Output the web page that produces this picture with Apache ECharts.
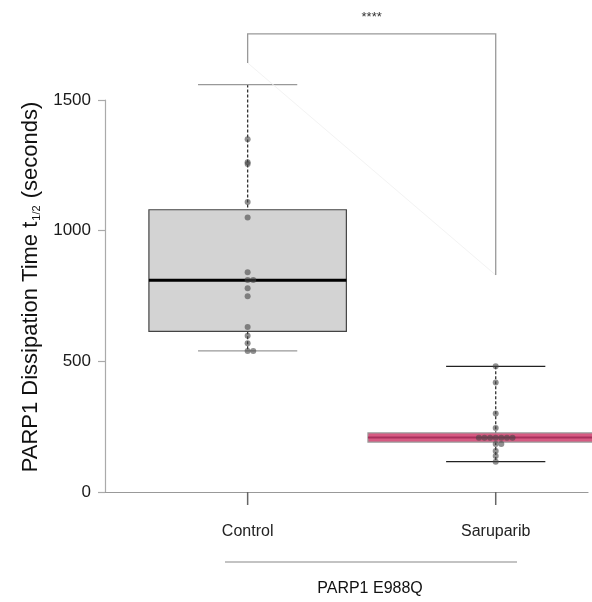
<!DOCTYPE html>
<html><head><meta charset="utf-8">
<script src="https://cdn.jsdelivr.net/npm/echarts@6/dist/echarts.min.js"></script>
<style>html,body{margin:0;padding:0;background:#fff}#c{width:592px;height:602px}</style>
</head><body><div id="c"></div>
<script>
// ---- data ----
const categories = ['Control', 'Saruparib'];
const controlValues = [1559, 1350, 1262, 1255, 1110, 1050, 841, 811, 811, 780, 749, 631, 598, 569, 540, 540];
const saruparibValues = [481, 419, 300, 245, 208, 208, 208, 208, 208, 208, 208, 184, 184, 157, 138, 116];
const boxMin = [540, 116];
const boxQ1 = [615, 191];
const boxMedian = [810, 209];
const boxQ3 = [1080, 226];
const boxMax = [1559, 481];
const yTicks = [0, 500, 1000, 1500];
const groupLabel = 'PARP1 E988Q';
const yTitle = 'PARP1 Dissipation Time t{sub|1/2} (seconds)';
const sigLabel = '****';
const bracketTop = [1753];
const bracketEnds = [1642, 830];

// ---- styling ----
const FONT = '"Liberation Sans", Arial, Helvetica, sans-serif';
const boxHalfWidth = [0.398, 0.515];
const capHalfWidth = 0.2;
const boxStyles = [
  { fill: '#d3d3d3', stroke: '#444', median: '#000', medianW: 3, cap: '#999' },
  { fill: '#d65a82', stroke: '#999', median: '#a8305c', medianW: 2, cap: '#222' }
];

// beeswarm-style offsets: identical values spread center, +1, -1, +2, -2 ...
function swarm(values, idx) {
  const seen = {};
  const step = 5.6 / 248;
  return values.map(v => {
    const k = seen[v] || 0; seen[v] = k + 1;
    const m = Math.ceil(k / 2) * (k % 2 === 1 ? 1 : -1);
    return [idx + m * step, v];
  });
}
const points = swarm(controlValues, 0).concat(swarm(saruparibValues, 1));

const boxData = categories.map((c, i) => [i, boxMin[i], boxQ1[i], boxMedian[i], boxQ3[i], boxMax[i]]);

function renderBox(params, api) {
  const i = api.value(0);
  const s = boxStyles[i];
  const cx = api.coord([i, 0])[0];
  const y = k => api.coord([i, api.value(k)])[1];
  const yMin = y(1), yQ1 = y(2), yMd = y(3), yQ3 = y(4), yMax = y(5);
  const unit = api.size([1, 0])[0];
  const bw = boxHalfWidth[i] * unit, cw = capHalfWidth * unit;
  const dash = { stroke: '#333', lineWidth: 1.3, lineDash: [3, 2] };
  return { type: 'group', children: [
    { type: 'line', shape: { x1: cx, y1: yMax, x2: cx, y2: yQ3 }, style: dash },
    { type: 'line', shape: { x1: cx, y1: yQ1, x2: cx, y2: yMin }, style: dash },
    { type: 'line', shape: { x1: cx - cw, y1: yMax, x2: cx + cw, y2: yMax }, style: { stroke: s.cap, lineWidth: 1.3 } },
    { type: 'line', shape: { x1: cx - cw, y1: yMin, x2: cx + cw, y2: yMin }, style: { stroke: s.cap, lineWidth: 1.3 } },
    { type: 'rect', shape: { x: cx - bw, y: yQ3, width: 2 * bw, height: yQ1 - yQ3 }, style: { fill: s.fill, stroke: s.stroke, lineWidth: 1.2 } },
    { type: 'line', shape: { x1: cx - bw, y1: yMd, x2: cx + bw, y2: yMd }, style: { stroke: s.median, lineWidth: s.medianW } }
  ]};
}

function renderTicks(params, api) {
  const i = api.value(0);
  const p = api.coord([i, 0]);
  return { type: 'group', children: [
    { type: 'line', shape: { x1: p[0], y1: p[1], x2: p[0], y2: p[1] + 13 }, style: { stroke: '#666', lineWidth: 1.5 } },
    { type: 'text', x: p[0], y: p[1] + 40, style: { text: categories[i], fontSize: 16, fontFamily: FONT, fill: '#222', align: 'center', verticalAlign: 'middle', textAlign: 'center', textVerticalAlign: 'middle' } }
  ]};
}

function renderBracket(params, api) {
  const a = api.coord([0, api.value(1)]);
  const b = api.coord([1, api.value(1)]);
  const yl = api.coord([0, api.value(2)])[1];
  const yr = api.coord([1, api.value(3)])[1];
  return { type: 'group', children: [
    { type: 'line', shape: { x1: a[0], y1: yl, x2: b[0], y2: yr }, style: { stroke: '#f3f3f3', lineWidth: 1 } },
    { type: 'polyline', shape: { points: [[a[0], yl], [a[0], a[1]], [b[0], b[1]], [b[0], yr]] }, style: { stroke: '#999', lineWidth: 1.3, fill: null } },
    { type: 'text', x: (a[0] + b[0]) / 2, y: a[1] - 16, style: { text: sigLabel, fontSize: 13, fontFamily: FONT, fill: '#333', align: 'center', verticalAlign: 'middle', textAlign: 'center', textVerticalAlign: 'middle' } }
  ]};
}

const chart = echarts.init(document.getElementById('c'), null, { renderer: 'canvas' });
chart.setOption({
  animation: false,
  backgroundColor: '#fff',
  grid: { left: 105, right: 4, top: 100, bottom: 110, containLabel: false, outerBoundsMode: 'none' },
  xAxis: { type: 'value', min: -0.575, max: 1.372,
    axisLine: { show: true, onZero: false, lineStyle: { color: '#999', width: 1.2 } },
    axisTick: { show: false }, axisLabel: { show: false }, splitLine: { show: false } },
  yAxis: { type: 'value', min: yTicks[0], max: yTicks[yTicks.length - 1], interval: yTicks[1] - yTicks[0],
    axisLine: { show: true, onZero: false, lineStyle: { color: '#aaa', width: 1.2 } },
    axisTick: { show: true, length: 7, lineStyle: { color: '#aaa', width: 1.2 } },
    axisLabel: { fontSize: 17, color: '#1a1a1a', margin: 14, fontFamily: FONT, formatter: v => String(v) },
    splitLine: { show: false } },
  graphic: [
    { type: 'text', x: 31, y: 287, rotation: Math.PI / 2,
      style: { text: yTitle, fontSize: 22, fontFamily: FONT, fill: '#111', align: 'center', verticalAlign: 'middle', textAlign: 'center', textVerticalAlign: 'middle',
        rich: { sub: { fontSize: 11, fontFamily: FONT, fill: '#111', verticalAlign: 'bottom', padding: [0, 1, 0, 1] } } } },
    { type: 'line', shape: { x1: 225, y1: 562, x2: 517, y2: 562 }, style: { stroke: '#888', lineWidth: 1.2 } },
    { type: 'text', x: 370, y: 589, style: { text: groupLabel, fontSize: 16, fontFamily: FONT, fill: '#111', align: 'center', verticalAlign: 'middle', textAlign: 'center', textVerticalAlign: 'middle' } }
  ],
  series: [
    { type: 'custom', renderItem: renderBox, data: boxData, clip: false, z: 2, encode: { x: 0, y: [1, 2, 3, 4, 5] } },
    { type: 'scatter', data: points, symbolSize: 6, itemStyle: { color: 'rgba(70,70,70,0.75)' }, z: 5 },
    { type: 'custom', renderItem: renderTicks, data: categories.map((c, i) => [i]), clip: false, z: 3, encode: { x: 0 } },
    { type: 'custom', renderItem: renderBracket, data: [[0, bracketTop[0], bracketEnds[0], bracketEnds[1]]], clip: false, z: 3, encode: { x: 0, y: [1, 2, 3] } }
  ]
});
</script></body></html>
